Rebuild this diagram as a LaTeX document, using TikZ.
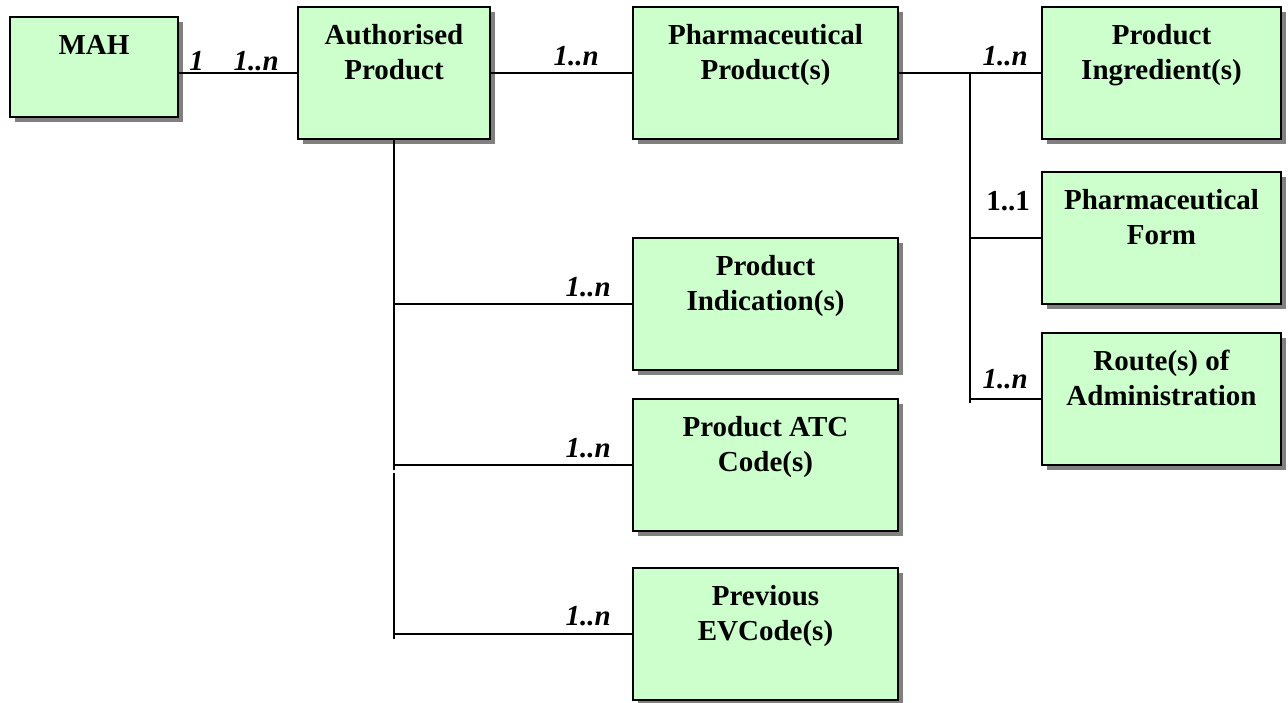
\documentclass[tikz,border=0pt]{standalone}
\usepackage{fontspec}
\setmainfont{Liberation Serif}
\usetikzlibrary{shadows}
\definecolor{boxgreen}{HTML}{CCFFCC}
\begin{document}
\begin{tikzpicture}[x=1pt,y=-1pt,
  entity/.style={draw=black, line width=2pt, fill=boxgreen, rectangle, inner sep=0pt,
    drop shadow={shadow xshift=5pt, shadow yshift=-5pt, fill=black!50, opacity=1}},
  etext/.style={anchor=north, align=center, inner sep=0pt, font=\fontsize{29}{35}\selectfont\bfseries},
  conn/.style={draw=black, line width=1.5pt},
  card/.style={anchor=base east, inner sep=0pt, font=\fontsize{29}{35}\selectfont\bfseries\itshape},
  cardup/.style={anchor=base east, inner sep=0pt, font=\fontsize{29}{35}\selectfont\bfseries},
  wide/.style={minimum width=265pt, minimum height=132pt},
  right/.style={minimum width=239pt, minimum height=132pt}
]
\useasboundingbox (0,0) rectangle (1288,702);

% entity boxes
\node[entity, minimum width=168pt, minimum height=100pt] (mah) at (94,67) {};
\node[entity, minimum width=192pt, minimum height=132pt] (auth) at (394,73) {};
\node[entity, wide] (pharm) at (765.5,73) {};
\node[entity, right] (ingr) at (1161.5,73) {};
\node[entity, right] (form) at (1161.5,238) {};
\node[entity, right] (route) at (1161.5,399) {};
\node[entity, wide] (ind) at (765.5,304) {};
\node[entity, wide] (atc) at (765.5,465) {};
\node[entity, wide] (prev) at (765.5,634) {};

% box texts
\node[etext] (mah-t) at ([yshift=-17pt]mah.north) {\rule{0pt}{21pt}MAH};
\node[etext] (auth-t) at ([yshift=-17pt]auth.north) {\rule{0pt}{21pt}Authorised\\Product};
\node[etext] (pharm-t) at ([yshift=-17pt]pharm.north) {\rule{0pt}{21pt}Pharmaceutical\\Product(s)};
\node[etext] (ingr-t) at ([yshift=-17pt]ingr.north) {\rule{0pt}{21pt}Product\\Ingredient(s)};
\node[etext] (form-t) at ([yshift=-17pt]form.north) {\rule{0pt}{21pt}Pharmaceutical\\Form};
\node[etext] (route-t) at ([yshift=-17pt]route.north) {\rule{0pt}{21pt}Route(s) of\\Administration};
\node[etext] (ind-t) at ([yshift=-17pt]ind.north) {\rule{0pt}{21pt}Product\\Indication(s)};
\node[etext] (atc-t) at ([yshift=-17pt]atc.north) {\rule{0pt}{21pt}Product ATC\\Code(s)};
\node[etext] (prev-t) at ([yshift=-17pt]prev.north) {\rule{0pt}{21pt}Previous\\EVCode(s)};

% connectors
\draw[conn] (mah.east |- auth.west) -- (auth.west);
\draw[conn] (auth.east) -- (pharm.west);
\draw[conn] (pharm.east) -- (ingr.west);

\coordinate (rtop) at (970,73);
\coordinate (rbot) at (970,403);
\draw[conn] (rtop) -- (rbot);
\draw[conn] (form.west) -- (form.west -| rtop);
\draw[conn] (route.west) -- (route.west -| rtop);

\coordinate (s1) at (394,470);
\coordinate (s2) at (394,473);
\coordinate (s3) at (394,639);
\draw[conn] (auth.south) -- (s1);
\draw[conn] (s2) -- (s3);
\draw[conn] (ind.west) -- (ind.west -| auth.south);
\draw[conn] (atc.west) -- (atc.west -| auth.south);
\draw[conn] (prev.west) -- (prev.west -| auth.south);

% cardinalities
\node[card] (c1) at (204,70) {1};
\node[card] (c2) at (279,70) {1..n};
\node[card] (c3) at (599,65) {1..n};
\node[card] (c4) at (1028,65) {1..n};
\node[cardup] (c5) at (1030,210) {1..1};
\node[card] (c6) at (1028,388) {1..n};
\node[card] (c7) at (611,296) {1..n};
\node[card] (c8) at (611,457) {1..n};
\node[card] (c9) at (611,625) {1..n};
\end{tikzpicture}
\end{document}
